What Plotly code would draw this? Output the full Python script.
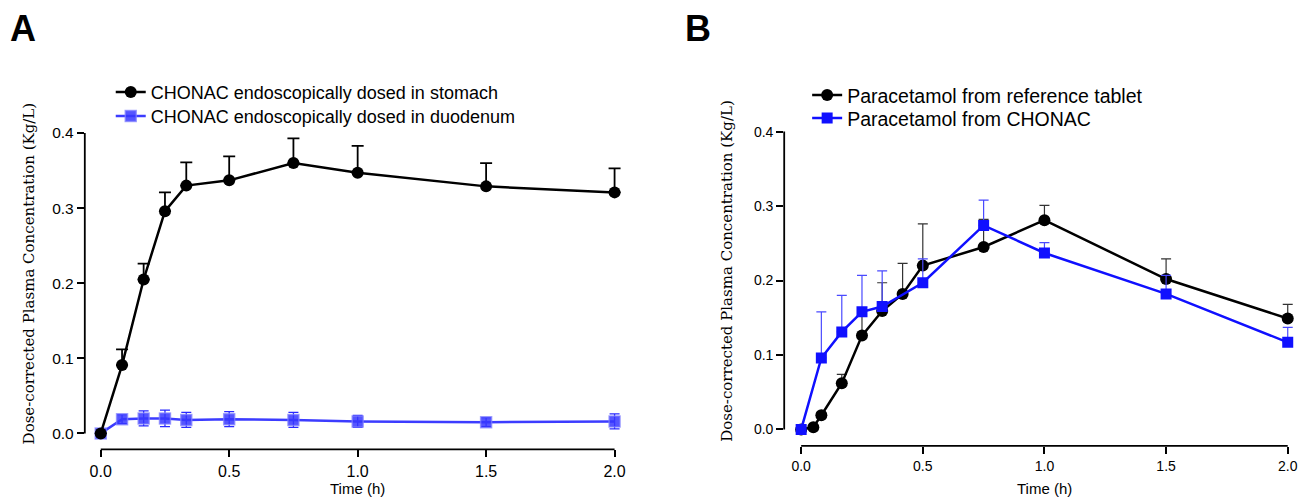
import plotly.graph_objects as go

# ---------------- Data ----------------
# Panel A
a_time = [0, 0.083, 0.167, 0.25, 0.333, 0.5, 0.75, 1.0, 1.5, 2.0]
a_stomach = [0.0, 0.091, 0.205, 0.296, 0.330, 0.337, 0.360, 0.347, 0.329, 0.321]
a_stomach_sd = [0.0, 0.021, 0.021, 0.025, 0.031, 0.032, 0.033, 0.036, 0.031, 0.032]
a_duodenum = [0.0, 0.019, 0.020, 0.020, 0.018, 0.019, 0.018, 0.016, 0.015, 0.016]
a_duodenum_sd = [0.0, 0.006, 0.010, 0.011, 0.010, 0.010, 0.010, 0.008, 0.006, 0.010]

# Panel B
b_time_ref = [0, 0.05, 0.083, 0.167, 0.25, 0.333, 0.417, 0.5, 0.75, 1.0, 1.5, 2.0]
b_ref = [0.0, 0.003, 0.019, 0.062, 0.126, 0.159, 0.182, 0.220, 0.245, 0.281, 0.202, 0.149]
b_ref_sd = [0.0, 0.002, 0.004, 0.012, 0.030, 0.038, 0.041, 0.056, 0.037, 0.020, 0.027, 0.019]
b_time_chonac = [0, 0.083, 0.167, 0.25, 0.333, 0.5, 0.75, 1.0, 1.5, 2.0]
b_chonac = [0.0, 0.096, 0.131, 0.158, 0.165, 0.197, 0.274, 0.237, 0.182, 0.117]
b_chonac_sd = [0.0, 0.062, 0.049, 0.049, 0.048, 0.032, 0.034, 0.014, 0.025, 0.020]

x_ticks = [0, 0.5, 1.0, 1.5, 2.0]
x_ticktext = ["0.0", "0.5", "1.0", "1.5", "2.0"]
y_ticks = [0, 0.1, 0.2, 0.3, 0.4]
y_ticktext = ["0.0", "0.1", "0.2", "0.3", "0.4"]

label_a_stomach = "CHONAC endoscopically dosed in stomach"
label_a_duodenum = "CHONAC endoscopically dosed in duodenum"
label_b_ref = "Paracetamol from reference tablet"
label_b_chonac = "Paracetamol from CHONAC"
y_title = "Dose-corrected Plasma Concentration (Kg/L)"
x_title = "Time (h)"

W, H = 1311, 500
SANS = "Liberation Sans, Arial, sans-serif"
SERIF = "DejaVu Serif, serif"

fig = go.Figure()

# Panel A: duodenum (drawn first, below)
fig.add_trace(go.Scatter(
    x=a_time, y=a_duodenum, mode="lines+markers", name=label_a_duodenum,
    xaxis="x", yaxis="y", legend="legend2",
    line=dict(color="#3c3cff", width=2.5),
    marker=dict(symbol="square", size=11, color="rgba(55,55,255,0.85)",
                line=dict(color="rgba(130,130,255,0.7)", width=1.5)),
    error_y=dict(type="data", array=a_duodenum_sd, symmetric=True,
                 color="#2a2aff", thickness=1.3, width=5),
))
fig.add_trace(go.Scatter(
    x=a_time, y=a_stomach, mode="lines+markers", name=label_a_stomach,
    xaxis="x", yaxis="y", legend="legend",
    line=dict(color="black", width=2.5),
    marker=dict(symbol="circle", size=12, color="black"),
    error_y=dict(type="data", array=a_stomach_sd, symmetric=False,
                 arrayminus=[0] * len(a_stomach_sd),
                 color="black", thickness=1.8, width=6),
))

# Panel B
fig.add_trace(go.Scatter(
    x=b_time_ref, y=b_ref, mode="lines+markers", name=label_b_ref,
    xaxis="x2", yaxis="y2", legend="legend3",
    line=dict(color="black", width=2.5),
    marker=dict(symbol="circle", size=12, color="black"),
    error_y=dict(type="data", array=b_ref_sd, symmetric=False,
                 arrayminus=[0] * len(b_ref_sd),
                 color="#333333", thickness=1.2, width=5),
))
fig.add_trace(go.Scatter(
    x=b_time_chonac, y=b_chonac, mode="lines+markers", name=label_b_chonac,
    xaxis="x2", yaxis="y2", legend="legend4",
    line=dict(color="#1010ff", width=2.5),
    marker=dict(symbol="square", size=11, color="#1010ff"),
    error_y=dict(type="data", array=b_chonac_sd, symmetric=False,
                 arrayminus=[0] * len(b_chonac_sd),
                 color="#4a4aff", thickness=1.2, width=5),
))

def px_dom_x(a, b):
    return [a / W, b / W]

def px_dom_y(top, bottom):
    return [1 - bottom / H, 1 - top / H]

def axis_style(size):
    return dict(showgrid=False, zeroline=False, showline=False,
                ticks="outside", ticklen=7, tickwidth=1.5, tickcolor="black",
                tickfont=dict(family=SANS, size=size, color="black"))

def legend_at(left, top, size):
    return dict(x=left / W, y=1 - top / H, xanchor="left", yanchor="top",
                bgcolor="rgba(0,0,0,0)", font=dict(family=SANS, size=size, color="black"),
                itemwidth=30, tracegroupgap=0)

fig.update_layout(
    width=W, height=H,
    margin=dict(l=0, r=0, t=0, b=0),
    paper_bgcolor="white", plot_bgcolor="white",
    xaxis=dict(domain=px_dom_x(85, 625), range=[-0.062, 2.035],
               tickvals=x_ticks, ticktext=x_ticktext, anchor="y", **axis_style(16)),
    yaxis=dict(domain=px_dom_y(124.8, 449.3), range=[-0.0213, 0.41],
               tickvals=y_ticks, ticktext=y_ticktext, anchor="x", **axis_style(15.5)),
    xaxis2=dict(domain=px_dom_x(786, 1298), range=[-0.0697, 2.03],
                tickvals=x_ticks, ticktext=x_ticktext, anchor="y2", **axis_style(14)),
    yaxis2=dict(domain=px_dom_y(123.4, 445.7), range=[-0.022, 0.41],
                tickvals=y_ticks, ticktext=y_ticktext, anchor="x2", **axis_style(14)),
    legend=legend_at(111, 73, 18),
    legend2=legend_at(111, 97, 18),
    legend3=legend_at(809, 75, 19.5),
    legend4=legend_at(809, 98, 19.5),
    showlegend=True,
)

# Axis lines spanning only the data range (offset axes)
line_style = dict(color="black", width=1.8)
fig.add_shape(type="line", xref="x domain", yref="y", x0=0, x1=0, y0=0, y1=0.4, line=line_style)
fig.add_shape(type="line", xref="x", yref="y domain", x0=0, x1=2, y0=0, y1=0, line=line_style)
fig.add_shape(type="line", xref="x2 domain", yref="y2", x0=0, x1=0, y0=0, y1=0.4, line=line_style)
fig.add_shape(type="line", xref="x2", yref="y2 domain", x0=0, x1=2, y0=0, y1=0, line=line_style)

annotations = [
    dict(text="<b>A</b>", x=8 / W, y=1 - 28 / H, xanchor="left", yanchor="middle",
         font=dict(family=SANS, size=36, color="black")),
    dict(text="<b>B</b>", x=685 / W, y=1 - 28 / H, xanchor="left", yanchor="middle",
         font=dict(family=SANS, size=36, color="black")),
    dict(text=x_title, x=358 / W, y=1 - 488 / H, xanchor="center", yanchor="middle",
         font=dict(family=SANS, size=15, color="black")),
    dict(text=x_title, x=1047 / W, y=1 - 488 / H, xanchor="center", yanchor="middle",
         font=dict(family=SANS, size=15, color="black")),
    dict(text=y_title, x=30 / W, y=1 - 273 / H, xanchor="center", yanchor="middle",
         textangle=-90, font=dict(family=SERIF, size=15, color="black")),
    dict(text=y_title, x=729 / W, y=1 - 270 / H, xanchor="center", yanchor="middle",
         textangle=-90, font=dict(family=SERIF, size=15, color="black")),
]
for a in annotations:
    a.update(xref="paper", yref="paper", showarrow=False)
fig.update_layout(annotations=annotations)

fig.write_html("out.html", config={"displayModeBar": False},
               post_script="document.body.style.margin='0';")
